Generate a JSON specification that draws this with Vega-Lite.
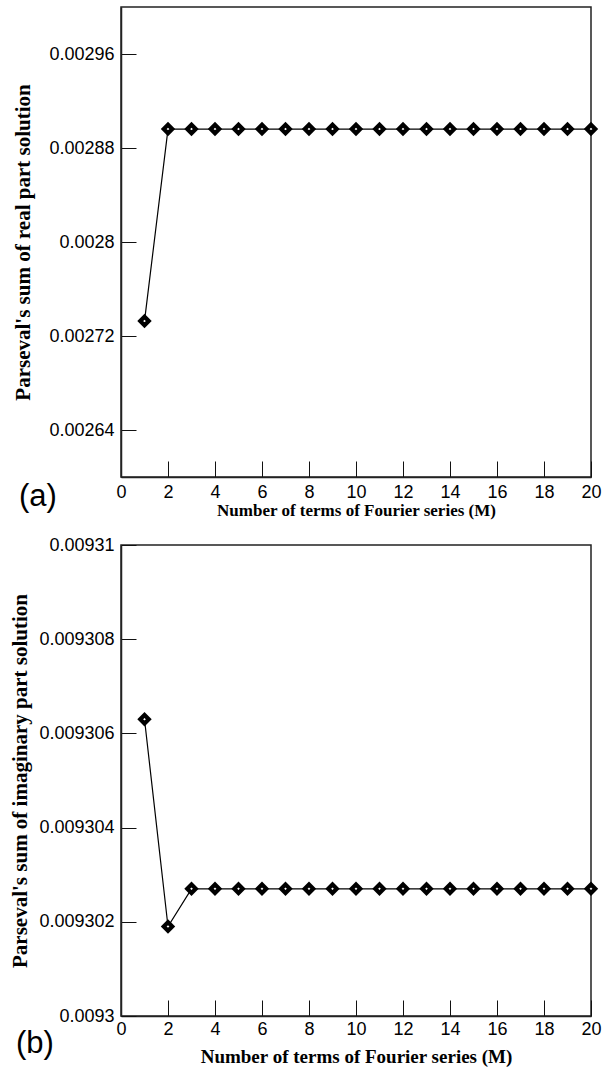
{
  "$schema": "https://vega.github.io/schema/vega-lite/v6.json",
  "padding": {"left": 9, "top": 6, "right": 0, "bottom": 4},
  "spacing": 16,
  "config": {
    "view": {"stroke": "#222", "strokeWidth": 1.5},
    "axis": {
      "grid": false,
      "domainColor": "#222",
      "domainWidth": 1.5,
      "tickColor": "#111",
      "tickWidth": 1,
      "labelFont": "Liberation Sans",
      "labelFontSize": 18,
      "labelColor": "#000",
      "titleFont": "Liberation Serif",
      "titleFontWeight": "bold",
      "titleColor": "#000"
    }
  },
  "vconcat": [
    {
      "width": 470,
      "height": 470,
      "title": {"text": "(a)", "orient": "bottom", "anchor": "start", "frame": "bounds", "offset": -36, "dx": 6, "font": "Liberation Sans", "fontSize": 31, "fontWeight": "normal", "color": "#000"},
      "data": {"values": [
        {"M": 1, "S": 0.0027327},
        {"M": 2, "S": 0.0028961},
        {"M": 3, "S": 0.0028961},
        {"M": 4, "S": 0.0028961},
        {"M": 5, "S": 0.0028961},
        {"M": 6, "S": 0.0028961},
        {"M": 7, "S": 0.0028961},
        {"M": 8, "S": 0.0028961},
        {"M": 9, "S": 0.0028961},
        {"M": 10, "S": 0.0028961},
        {"M": 11, "S": 0.0028961},
        {"M": 12, "S": 0.0028961},
        {"M": 13, "S": 0.0028961},
        {"M": 14, "S": 0.0028961},
        {"M": 15, "S": 0.0028961},
        {"M": 16, "S": 0.0028961},
        {"M": 17, "S": 0.0028961},
        {"M": 18, "S": 0.0028961},
        {"M": 19, "S": 0.0028961},
        {"M": 20, "S": 0.0028961}
      ]},
      "encoding": {
        "x": {"field": "M", "type": "quantitative",
          "scale": {"domain": [0, 20], "nice": false, "zero": false},
          "axis": {"values": [0, 2, 4, 6, 8, 10, 12, 14, 16, 18, 20], "tickSize": -16, "labelPadding": 22, "labelFlush": false,
            "title": "Number of terms of Fourier series (M)", "titleFontSize": 17, "titlePadding": 1}},
        "y": {"field": "S", "type": "quantitative",
          "scale": {"domain": [0.0026, 0.003], "nice": false, "zero": false},
          "axis": {"values": [0.00264, 0.00272, 0.0028, 0.00288, 0.00296], "format": ".5~f", "tickSize": -15, "labelPadding": 22,
            "title": "Parseval's sum of  real part solution", "titleFontSize": 21, "titlePadding": 15}}
      },
      "layer": [
        {"mark": {"type": "line", "color": "#000", "strokeWidth": 1.2}},
        {"mark": {"type": "point", "shape": "diamond", "filled": true, "fill": "#fff", "stroke": "#000", "strokeWidth": 4.2, "size": 72, "opacity": 1}}
      ]
    },
    {
      "width": 470,
      "height": 471,
      "title": {"text": "(b)", "orient": "bottom", "anchor": "start", "frame": "bounds", "offset": -37, "dx": 6, "font": "Liberation Sans", "fontSize": 31, "fontWeight": "normal", "color": "#000"},
      "data": {"values": [
        {"M": 1, "S": 0.0093063},
        {"M": 2, "S": 0.0093019},
        {"M": 3, "S": 0.0093027},
        {"M": 4, "S": 0.0093027},
        {"M": 5, "S": 0.0093027},
        {"M": 6, "S": 0.0093027},
        {"M": 7, "S": 0.0093027},
        {"M": 8, "S": 0.0093027},
        {"M": 9, "S": 0.0093027},
        {"M": 10, "S": 0.0093027},
        {"M": 11, "S": 0.0093027},
        {"M": 12, "S": 0.0093027},
        {"M": 13, "S": 0.0093027},
        {"M": 14, "S": 0.0093027},
        {"M": 15, "S": 0.0093027},
        {"M": 16, "S": 0.0093027},
        {"M": 17, "S": 0.0093027},
        {"M": 18, "S": 0.0093027},
        {"M": 19, "S": 0.0093027},
        {"M": 20, "S": 0.0093027}
      ]},
      "encoding": {
        "x": {"field": "M", "type": "quantitative",
          "scale": {"domain": [0, 20], "nice": false, "zero": false},
          "axis": {"values": [0, 2, 4, 6, 8, 10, 12, 14, 16, 18, 20], "tickSize": -16, "labelPadding": 20, "labelFlush": false,
            "title": "Number of terms of Fourier series (M)", "titleFontSize": 19, "titlePadding": 9}},
        "y": {"field": "S", "type": "quantitative",
          "scale": {"domain": [0.0093, 0.00931], "nice": false, "zero": false},
          "axis": {"values": [0.0093, 0.009302, 0.009304, 0.009306, 0.009308, 0.00931], "format": ".6~f", "tickSize": -15, "labelPadding": 22,
            "title": "Parseval's sum of  imaginary part solution", "titleFontSize": 21, "titlePadding": 8}}
      },
      "layer": [
        {"mark": {"type": "line", "color": "#000", "strokeWidth": 1.2}},
        {"mark": {"type": "point", "shape": "diamond", "filled": true, "fill": "#fff", "stroke": "#000", "strokeWidth": 4.2, "size": 72, "opacity": 1}}
      ]
    }
  ]
}
